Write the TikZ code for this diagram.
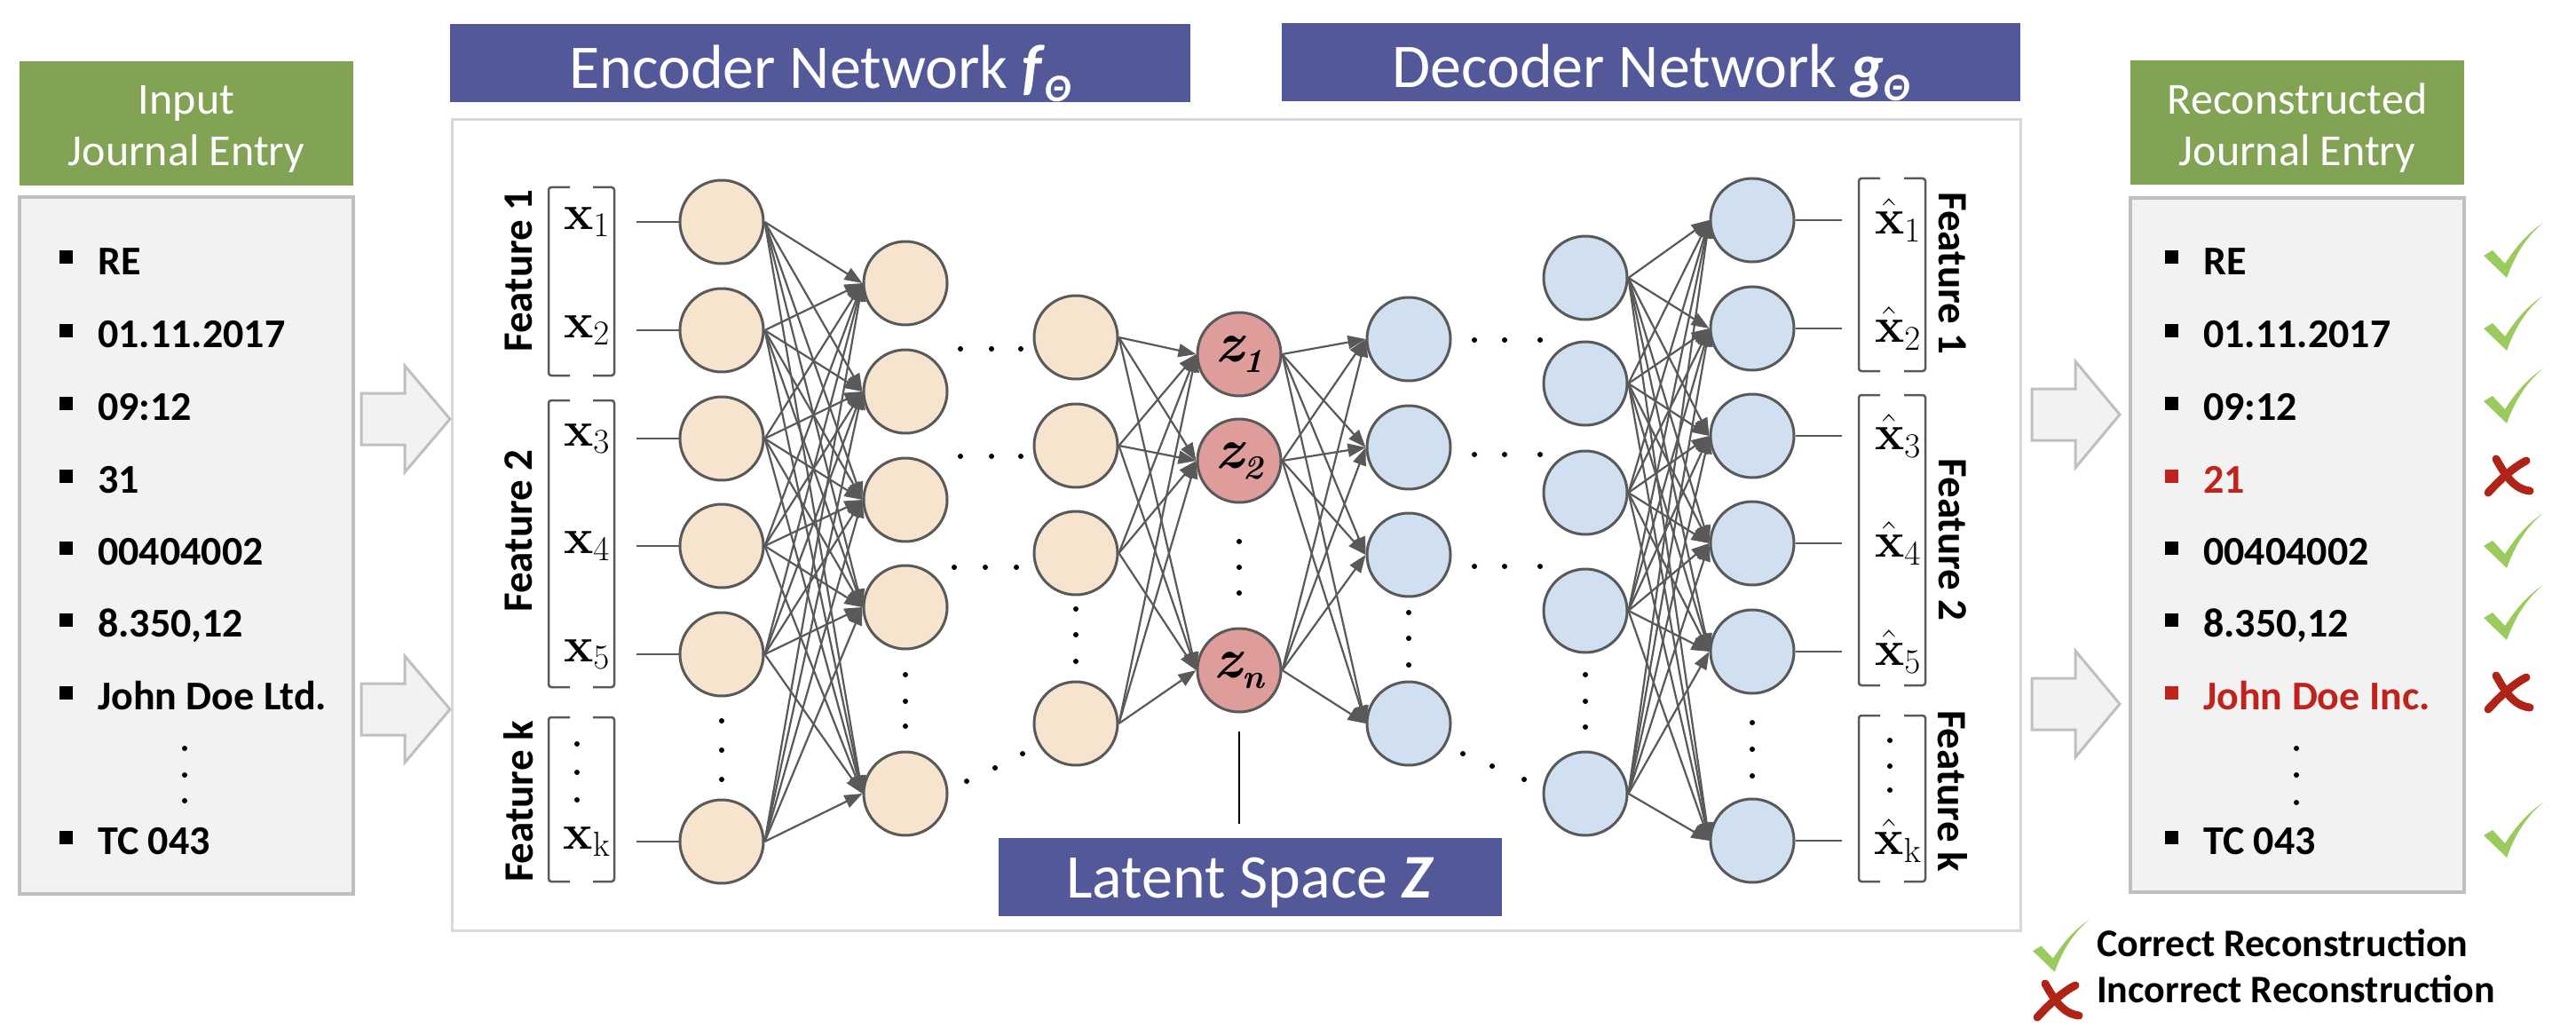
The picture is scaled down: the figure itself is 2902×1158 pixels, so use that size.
\RequirePackage{fix-cm}
\documentclass[tikz,border=0pt]{standalone}
\usepackage[no-math]{fontspec}
\setmainfont{Carlito}
\usetikzlibrary{arrows.meta}
\definecolor{purp}{RGB}{83,88,153}
\definecolor{hgreen}{RGB}{130,162,84}
\definecolor{boxgray}{RGB}{242,242,242}
\definecolor{boxline}{RGB}{191,191,191}
\definecolor{nodeline}{RGB}{89,89,89}
\definecolor{encfill}{RGB}{246,228,206}
\definecolor{latfill}{RGB}{222,157,155}
\definecolor{decfill}{RGB}{209,224,240}
\definecolor{wrongred}{RGB}{192,35,28}
\definecolor{chkgreen}{RGB}{155,203,95}
\definecolor{xred}{RGB}{176,36,24}
\newcommand\zlab[1]{{\fontfamily{lmr}\fontseries{bx}\fontshape{it}\fontsize{64}{64}\selectfont z\raisebox{-12pt}{\fontsize{38}{38}\selectfont #1}}}
\begin{document}
\begin{tikzpicture}[x=1pt,y=-1pt,
  neuron/.style={circle, draw=nodeline, line width=3pt, minimum size=94pt, inner sep=0pt},
  enc/.style={neuron, fill=encfill},
  lat/.style={neuron, fill=latfill},
  dec/.style={neuron, fill=decfill},
  conn/.style={draw=nodeline, line width=2.2pt, -{Triangle[length=20pt,width=15pt]}},
  inline/.style={draw=nodeline, line width=2.2pt},
  brk/.style={draw=nodeline, line width=2.5pt, rounded corners=3pt},
  dotmark/.style={fill=black},
  hdrgreen/.style={fill=hgreen, minimum width=376pt, minimum height=140pt, inner sep=0pt},
  hdrtext/.style={text=white, inner sep=0pt, align=center, font=\fontsize{50}{58}\selectfont},
  hdrpurple/.style={fill=purp, text=white, minimum height=88pt, inner sep=0pt, text depth=0pt, font=\fontsize{70}{80}\selectfont},
  listbox/.style={draw=boxline, fill=boxgray, line width=3.5pt, minimum width=376pt, inner sep=0pt},
  hollow/.style={draw=boxline, fill=boxgray, line width=3pt},
  item/.style={anchor=base west, inner sep=0pt, font=\fontsize{46}{50}\selectfont\bfseries},
  legend/.style={anchor=base west, inner sep=0pt, font=\fontsize{44}{50}\selectfont\bfseries},
  xlab/.style={inner sep=0pt, font=\fontsize{56}{60}\selectfont},
  featlbl/.style={inner sep=0pt, font=\fontsize{47}{50}\selectfont\bfseries},
  checkpic/.pic={\fill[chkgreen] (0,37) -- (10,31) -- (24,46) .. controls (38,24) and (52,10) .. (67,0) .. controls (50,14) and (36,34) .. (26,62) -- cycle;},
  crosspic/.pic={
    \draw[xred, line width=9pt, line cap=round] (12,4) .. controls (22,22) and (32,38) .. (50,40);
    \draw[xred, line width=9pt, line cap=round] (46,6) .. controls (30,14) and (14,30) .. (3,42);}
]
\useasboundingbox (0,0) rectangle (2902,1158);

% ---------- headers ----------
\node[hdrgreen] (inhdr) at (210,139) {};
\node[hdrtext] (inhdrtxt) at (210,145) {Input\\Journal Entry};
\node[hdrgreen] (outhdr) at (2588,138.5) {};
\node[hdrtext] (outhdrtxt) at (2588,144.5) {Reconstructed\\Journal Entry};

% ---------- list boxes ----------
\node[listbox, minimum height=785pt] (inbox) at (210,614.5) {};
\node[listbox, minimum height=782pt] (outbox) at (2588,614) {};

% ---------- network box ----------
\node[draw=black!15, line width=3pt, fill=white, minimum width=1767pt, minimum height=913pt, inner sep=0pt] (netbox) at (1392.5,591.5) {};

% ---------- purple headers ----------
\node[hdrpurple, text height=57pt, minimum width=834pt] (enchdr) at (924,71) {Encoder Network \textbf{\textit{f}}\raisebox{-15pt}{\fontsize{44}{44}\selectfont\bfseries\itshape Θ}};
\node[hdrpurple, text height=57pt, minimum width=832pt] (dechdr) at (1860,70) {Decoder Network \textbf{\textit{g}}\raisebox{-15pt}{\fontsize{44}{44}\selectfont\bfseries\itshape Θ}};
\node[hdrpurple, text height=46pt, minimum width=567pt] (lathdr) at (1408.5,988) {Latent Space \textbf{\textit{Z}}};

% ---------- hollow arrows ----------
\draw[hollow] (407,443) -- (456,443) -- (456,412) -- (507,472) -- (456,532) -- (456,501) -- (407,501) -- cycle;
\draw[hollow] (407,770) -- (456,770) -- (456,739) -- (507,799) -- (456,859) -- (456,828) -- (407,828) -- cycle;
\draw[hollow] (2289,438) -- (2338,438) -- (2338,407) -- (2388,467) -- (2338,527) -- (2338,496) -- (2289,496) -- cycle;
\draw[hollow] (2289,764) -- (2338,764) -- (2338,733) -- (2388,793) -- (2338,853) -- (2338,822) -- (2289,822) -- cycle;

% ---------- input list ----------
\foreach \t/\y/\n in {RE/294/1, 01.11.2017/376/2, 09:12/458/3, 31/540/4, 00404002/621/5, {8.350,12}/702/6, John Doe Ltd./784/7, TC 043/947/8}{
  \fill (66.5,\y-11.5) rectangle ++(15,15);
  \node[item] (li\n) at (110,\y+15) {\t};
}
\foreach \y in {843,873,902} \fill (208,\y) circle (3);

% ---------- output list ----------
\foreach \t/\y/\n/\c in {RE/294/1/black, 01.11.2017/376/2/black, 09:12/458/3/black, 21/540/4/wrongred, 00404002/621/5/black, {8.350,12}/702/6/black, John Doe Inc./784/7/wrongred, TC 043/947/8/black}{
  \fill[\c] (2438.5,\y-11.5) rectangle ++(15,15);
  \node[item, text=\c] (lo\n) at (2482,\y+15) {\t};
}
\foreach \y in {843,873,904} \fill (2587,\y) circle (3);
\foreach \y in {294,376,458,621,702,947} \pic at (2798,\y-43) {checkpic};
\foreach \y in {540,784} \pic at (2800,\y-27) {crosspic};

% ---------- legend ----------
\pic[scale=0.95] at (2290,1036) {checkpic};
\pic at (2292,1104) {crosspic};
\node[legend] (lg1) at (2362,1077) {Correct Reconstruction};
\node[legend] (lg2) at (2362,1129) {Incorrect Reconstruction};

% ---------- neurons ----------
\foreach \y [count=\i] in {250,372,494,615,737,948} \node[enc] (ea\i) at (813,\y) {};
\foreach \y [count=\i] in {319,441,563,684,894} \node[enc] (eb\i) at (1020,\y) {};
\foreach \y [count=\i] in {380,502,623,815} \node[enc] (ec\i) at (1212,\y) {};
\node[lat] (z1) at (1396,399) {\zlab{1}};
\node[lat] (z2) at (1396,519) {\zlab{2}};
\node[lat] (z3) at (1396,755) {\zlab{n}};
\foreach \y [count=\i] in {382,504,625,815} \node[dec] (da\i) at (1587,\y) {};
\foreach \y [count=\i] in {313,432,555,688,894} \node[dec] (db\i) at (1786,\y) {};
\foreach \y [count=\i] in {248,370,491,612,734,947} \node[dec] (dc\i) at (1974,\y) {};

% ---------- connections ----------
\foreach \i in {1,...,6} \foreach \j in {1,...,5} \draw[conn] (ea\i.east) -- (eb\j.west);
\foreach \i in {1,...,4} \foreach \j in {1,...,3} \draw[conn] (ec\i.east) -- (z\j.west);
\foreach \i in {1,...,3} \foreach \j in {1,...,4} \draw[conn] (z\i.east) -- (da\j.west);
\foreach \i in {1,...,5} \foreach \j in {1,...,6} \draw[conn] (db\i.east) -- (dc\j.west);

% input / output lines
\foreach \i in {1,...,6} {
  \path (ea\i.west) ++(-48,0) coordinate (xin\i);
  \draw[inline] (xin\i) -- (ea\i.west);
  \path (dc\i.east) ++(52,0) coordinate (xout\i);
  \draw[inline] (dc\i.east) -- (xout\i);
}

% ---------- dots ----------
\foreach \p in {(813,812),(813,845),(813,878),
                (1020,760),(1020,790),(1020,818),
                (1212,686),(1212,715),(1212,745),
                (1396,610),(1396,639),(1396,668),
                (1587,690),(1587,719),(1587,749),
                (1786,760),(1786,790),(1786,819),
                (1974,814),(1974,844),(1974,874),
                (1082,393),(1117,393),(1150,393),
                (1082,514),(1117,514),(1150,514),
                (1075,639),(1110,639),(1145,639),
                (1089,880),(1121,865),(1152,849),
                (1661,383),(1695,383),(1735,383),
                (1661,512),(1695,512),(1735,512),
                (1661,638),(1695,638),(1735,638),
                (1648,849),(1681,863),(1717,878),
                (650,838),(650,870),(650,901),
                (2129,834),(2129,863),(2129,890)}
  \fill[dotmark] \p circle (3);

% latent line
\draw[line width=2.5pt] ([yshift=-20pt]z3.south) -- ([yshift=16pt]z3.south |- lathdr.north);

% ---------- brackets ----------
\foreach \a/\b in {211/423, 451/774, 808/993}{
  \draw[brk] (642,\a) -- (618,\a) -- (618,\b) -- (642,\b);
  \draw[brk] (668,\a) -- (692,\a) -- (692,\b) -- (668,\b);
}
\foreach \a/\b in {201/418, 445/772, 806/993}{
  \draw[brk] (2118,\a) -- (2094,\a) -- (2094,\b) -- (2118,\b);
  \draw[brk] (2145,\a) -- (2169,\a) -- (2169,\b) -- (2145,\b);
}

% x labels
\node[xlab] (x1) at (661,250) {$\mathbf{x}_1$};
\node[xlab] (x2) at (661,372) {$\mathbf{x}_2$};
\node[xlab] (x3) at (661,494) {$\mathbf{x}_3$};
\node[xlab] (x4) at (661,615) {$\mathbf{x}_4$};
\node[xlab] (x5) at (661,737) {$\mathbf{x}_5$};
\node[xlab] (xk) at (661,948) {$\mathbf{x}_\mathrm{k}$};
\node[xlab] (y1) at (2138,248) {$\hat{\mathbf{x}}_1$};
\node[xlab] (y2) at (2138,370) {$\hat{\mathbf{x}}_2$};
\node[xlab] (y3) at (2138,491) {$\hat{\mathbf{x}}_3$};
\node[xlab] (y4) at (2138,612) {$\hat{\mathbf{x}}_4$};
\node[xlab] (y5) at (2138,734) {$\hat{\mathbf{x}}_5$};
\node[xlab] (yk) at (2138,947) {$\hat{\mathbf{x}}_\mathrm{k}$};

% feature labels
\node[featlbl, rotate=90] (fl1) at (584,305) {Feature 1};
\node[featlbl, rotate=90] (fl2) at (584,598) {Feature 2};
\node[featlbl, rotate=90] (fl3) at (584,903) {Feature k};
\node[featlbl, rotate=-90] (fr1) at (2200,308) {Feature 1};
\node[featlbl, rotate=-90] (fr2) at (2200,608) {Feature 2};
\node[featlbl, rotate=-90] (fr3) at (2200,891) {Feature k};
\end{tikzpicture}
\end{document}
